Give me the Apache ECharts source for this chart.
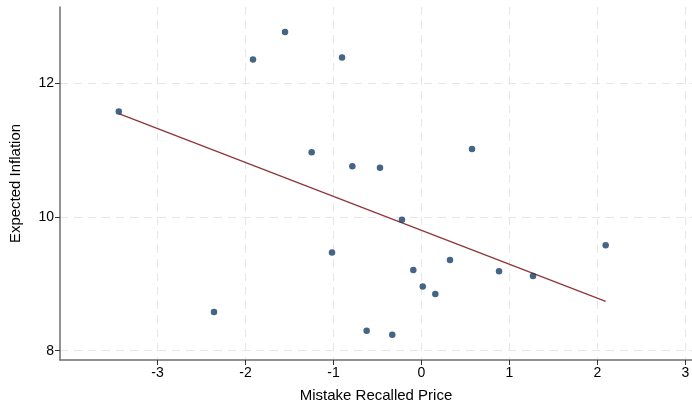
<!DOCTYPE html>
<html>
<head>
<meta charset="utf-8">
<script src="https://cdn.jsdelivr.net/npm/echarts@6/dist/echarts.min.js"></script>
<style>
  html, body { margin: 0; padding: 0; background: #fff; }
  #chart { width: 692px; height: 402px; }
</style>
</head>
<body>
<div id="chart"></div>
<script>
// Mistake in recalled price vs. expected inflation, one point per respondent group
const mistakeX = [-3.44, -1.915, -1.551, -0.903, -2.358, -1.248, -0.786, -0.472, 0.574, -0.222,
                  -1.017, -0.093, 0.324, 0.014, 0.157, 0.881, 1.267, 2.093, -0.623, -0.332];
const inflationY = [11.58, 12.36, 12.77, 12.39, 8.58, 10.97, 10.76, 10.74, 11.02, 9.96,
                    9.47, 9.21, 9.36, 8.96, 8.85, 9.19, 9.12, 9.58, 8.30, 8.24];
// Linear fit, drawn between its two end points
const fitX = [-3.44, 2.093];
const fitY = [11.55, 8.74];
const xTicks = [-3, -2, -1, 0, 1, 2, 3];
const yTicks = [8, 10, 12];

const points = mistakeX.map((x, i) => [x, inflationY[i]]);
const fitLine = fitX.map((x, i) => [x, fitY[i]]);

const font = 'Liberation Sans, Arial, Helvetica, sans-serif';
const chart = echarts.init(document.getElementById('chart'), null, { renderer: 'canvas' });

chart.setOption({
  backgroundColor: '#ffffff',
  animation: false,
  grid: { left: 60, right: 0, top: 7, bottom: 42, containLabel: false, outerBoundsMode: 'none' },
  xAxis: {
    type: 'value',
    min: -4.108,
    max: 3.074,
    name: 'Mistake Recalled Price',
    nameLocation: 'middle',
    nameGap: 28,
    nameTextStyle: { fontFamily: font, fontSize: 15, color: '#000' },
    axisLine: { show: true, onZero: false, lineStyle: { color: '#6e6e6e', width: 1.5 } },
    axisTick: { show: true, length: 5, lineStyle: { color: '#333', width: 1 },
      customValues: xTicks },
    axisLabel: { fontFamily: font, fontSize: 14, color: '#000', margin: 6,
      customValues: xTicks },
    splitLine: { show: true, lineStyle: { color: '#e6e6e6', type: [8, 6], width: 1 } }
  },
  yAxis: {
    type: 'value',
    min: 7.861,
    max: 13.146,
    name: 'Expected Inflation',
    nameLocation: 'middle',
    nameGap: 37,
    nameRotate: 90,
    nameTextStyle: { fontFamily: font, fontSize: 15, color: '#000' },
    axisLine: { show: true, onZero: false, lineStyle: { color: '#6e6e6e', width: 1.5 } },
    axisTick: { show: true, length: 5, lineStyle: { color: '#333', width: 1 },
      customValues: yTicks },
    axisLabel: { fontFamily: font, fontSize: 14, color: '#000', margin: 6,
      customValues: yTicks },
    splitLine: { show: true, lineStyle: { color: '#e6e6e6', type: [8, 6], width: 1 } }
  },
  series: [
    {
      type: 'line',
      data: fitLine,
      showSymbol: false,
      symbol: 'none',
      lineStyle: { color: '#90353b', width: 1.3 },
      z: 2
    },
    {
      type: 'scatter',
      data: points,
      symbol: 'circle',
      symbolSize: 6.5,
      itemStyle: { color: '#163f66' },
      z: 3
    }
  ]
});
</script>
</body>
</html>
